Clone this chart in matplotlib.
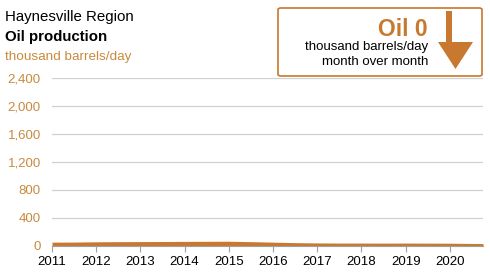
import numpy as np
import matplotlib.pyplot as plt
from matplotlib.patches import FancyBboxPatch, Polygon, Rectangle

#=================== data ===================#
## time in decimal years, oil production in thousand barrels/day
years = [2011.0, 2011.5, 2012.0, 2012.5, 2013.0, 2013.5, 2014.0, 2014.5,
         2015.0, 2015.5, 2016.0, 2016.5, 2017.0, 2017.5, 2018.0, 2018.5,
         2019.0, 2019.5, 2020.0, 2020.5, 2020.75]
oil = [55, 56, 60, 62, 63, 64, 66, 67, 68, 62, 55, 48, 44, 42, 42, 41,
       42, 41, 40, 36, 35]

year_ticks = list(range(2011, 2021))
y_ticks = [0, 400, 800, 1200, 1600, 2000, 2400]
y_labels = ["0", "400", "800", "1,200", "1,600", "2,000", "2,400"]

orange = "#c8782f"
label_orange = "#c98a3d"
font = ["Liberation Sans", "DejaVu Sans"]
plt.rcParams['font.family'] = font

#=================== figure ===================#
fig = plt.figure(figsize=(4.9, 2.76), dpi=100)
ax = fig.add_axes([52 / 490, 30 / 276, 431 / 490, 168 / 276])

ax.fill_between(years, 0, oil, color=orange, linewidth=0)
ax.set_xlim(2011, 2020.75)
ax.set_ylim(0, 2400)

ax.set_yticks(y_ticks)
ax.set_yticklabels(y_labels)
ax.set_xticks(year_ticks)
ax.grid(axis='y', color="#d0d0d0", linewidth=0.9)
ax.set_axisbelow(True)

for s in ['top', 'right', 'left']:
    ax.spines[s].set_visible(False)
ax.spines['bottom'].set_color("#a0a0a0")
ax.tick_params(axis='y', length=0, pad=8, labelsize=9.5, labelcolor=label_orange)
ax.tick_params(axis='x', length=4, color="#a0a0a0", pad=3, labelsize=9.5)

## titles
fig.text(5 / 490, 1 - 17 / 276, "Haynesville Region", fontsize=10.8, va='center')
fig.text(5 / 490, 1 - 37 / 276, "Oil production", fontsize=10.8, fontweight='bold', va='center')
fig.text(5 / 490, 1 - 57 / 276, "thousand barrels/day", fontsize=9.7, color=label_orange, va='center')

## monthly change box
box = FancyBboxPatch((278 / 490, 1 - 76 / 276), 204 / 490, 68 / 276,
                     boxstyle="round,pad=0,rounding_size=0.006",
                     transform=fig.transFigure, facecolor='white',
                     edgecolor=orange, linewidth=1.2)
fig.patches.append(box)
fig.text(428 / 490, 1 - 29 / 276, "Oil 0", fontsize=16.5, fontweight='bold',
         color=orange, ha='right', va='center')
fig.text(428 / 490, 1 - 47 / 276, "thousand barrels/day", fontsize=9.5, ha='right', va='center')
fig.text(428 / 490, 1 - 62 / 276, "month over month", fontsize=9.5, ha='right', va='center')

shaft = Rectangle((446 / 490, 1 - 43 / 276), 6 / 490, 32 / 276,
                  transform=fig.transFigure, color=orange, linewidth=0)
head = Polygon([[438 / 490, 1 - 42 / 276], [473 / 490, 1 - 42 / 276], [455.5 / 490, 1 - 69 / 276]],
               closed=True, transform=fig.transFigure, color=orange, linewidth=0)
fig.patches.append(shaft)
fig.patches.append(head)

fig.savefig("out.png", dpi=100)
